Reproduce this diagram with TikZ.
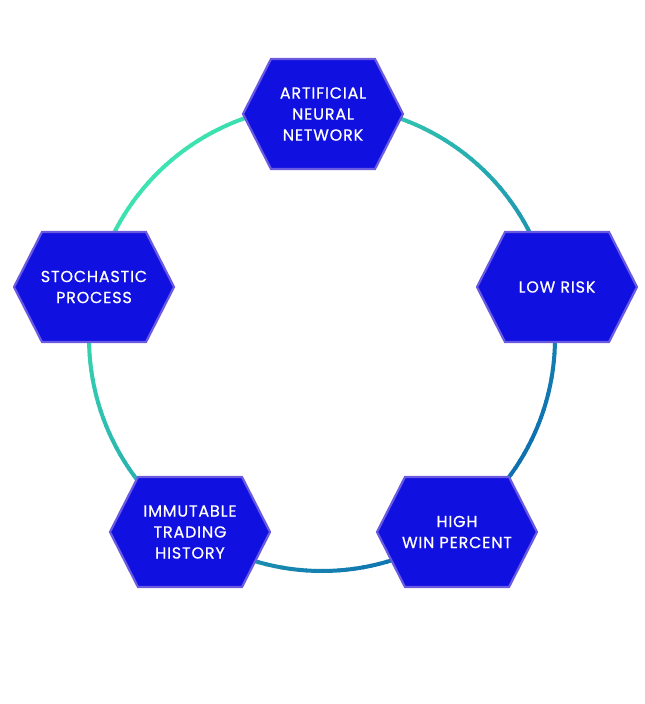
\documentclass[tikz,border=0pt]{standalone}
\usetikzlibrary{calc}
\usepackage{fontspec}
\setmainfont{Poppins}[FakeBold=0.6,LetterSpace=5]
\definecolor{hexfill}{HTML}{1010E0}
\definecolor{hexline}{HTML}{6A5AE0}
\definecolor{cg}{HTML}{3DE3B0}
\definecolor{cb}{HTML}{0E6FB0}
\tikzset{lbl/.style={text=white,font=\fontsize{16}{21}\selectfont,align=center}}
\newcommand{\myhex}[4]{%
  \fill[hexfill,draw=hexline,line width=2.2pt] (#1+80,#2) -- (#1+52,#2+55) -- (#1-52,#2+55) -- (#1-80,#2) -- (#1-52,#2-55) -- (#1+52,#2-55) -- cycle;
  \node[lbl] (#3) at (#1,#2) {#4};}
\begin{document}
\begin{tikzpicture}[x=1pt,y=1pt]
\useasboundingbox (0,0) rectangle (645,-704);
\coordinate (c) at (322,-338);
\foreach \a in {0,2,...,358}{
  \pgfmathsetmacro\t{(1-cos(\a+1-135))*50}
  \draw[cb!\t!cg,line width=4pt] ($(c)+(\a:233)$) arc[start angle=\a,end angle=\a+2.3,radius=233];
}
\myhex{323}{-114}{ann}{ARTIFICIAL\\NEURAL\\NETWORK}
\myhex{94}{-287}{sp}{STOCHASTIC\\PROCESS}
\myhex{557}{-287}{lr}{LOW RISK}
\myhex{190}{-532}{ith}{IMMUTABLE\\TRADING\\HISTORY}
\myhex{457}{-532}{hwp}{HIGH\\WIN PERCENT}
\end{tikzpicture}
\end{document}
